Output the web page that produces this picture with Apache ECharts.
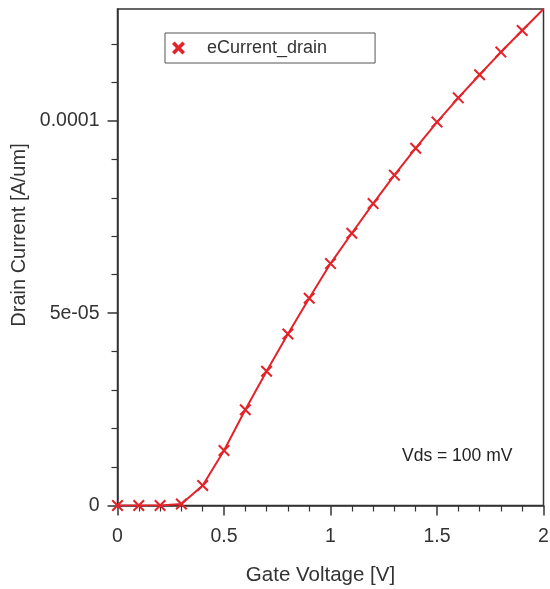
<!DOCTYPE html>
<html>
<head>
<meta charset="utf-8">
<script src="https://cdn.jsdelivr.net/npm/echarts@6/dist/echarts.min.js"></script>
<style>html,body{margin:0;padding:0;background:#fff;}#c{width:550px;height:589px;}</style>
</head>
<body>
<div id="c"></div>
<script>
// Data
const gateVoltage = [0, 0.1, 0.2, 0.3, 0.4, 0.5, 0.6, 0.7, 0.8, 0.9, 1.0, 1.1, 1.2, 1.3, 1.4, 1.5, 1.6, 1.7, 1.8, 1.9, 2.0];
const drainCurrent = [0, 0, 0, 4e-7, 5.2e-6, 1.43e-5, 2.49e-5, 3.49e-5, 4.46e-5, 5.39e-5, 6.29e-5, 7.08e-5, 7.85e-5, 8.59e-5, 9.29e-5, 9.97e-5, 1.06e-4, 1.12e-4, 1.179e-4, 1.235e-4, 1.291e-4];
const markedPoints = 20; // markers on the first 20 points only
const xTickLabels = {0: '0', 0.5: '0.5', 1: '1', 1.5: '1.5', 2: '2'};
const yMajorTicks = [0, 5e-5, 1e-4];
const yTickLabels = ['0', '5e-05', '0.0001'];
const yMinorTicks = [1e-5, 2e-5, 3e-5, 4e-5, 6e-5, 7e-5, 8e-5, 9e-5, 1.1e-4, 1.2e-4];
const seriesName = 'eCurrent_drain';
const xTitle = 'Gate Voltage [V]';
const yTitle = 'Drain Current [A/um]';
const note = 'Vds = 100 mV';

const FONT = '"Liberation Sans", Arial, sans-serif';
const TXT = '#333333';
const AX = '#333333';
const RED = '#e3232a';
const crossThin = 'path://M1.2,0 L5,3.8 L8.8,0 L10,1.2 L6.2,5 L10,8.8 L8.8,10 L5,6.2 L1.2,10 L0,8.8 L3.8,5 L0,1.2 Z';
const crossBold = 'path://M2,0 L5,3 L8,0 L10,2 L7,5 L10,8 L8,10 L5,7 L2,10 L0,8 L3,5 L0,2 Z';

const data = gateVoltage.map((x, i) => i < markedPoints ? [x, drainCurrent[i]] : {value: [x, drainCurrent[i]], symbol: 'none'});

const chart = echarts.init(document.getElementById('c'), null, {renderer: 'canvas'});
chart.setOption({
  animation: false,
  backgroundColor: '#fff',
  grid: {left: 117.5, right: 6.5, top: 9, bottom: 83.5, show: true, borderColor: AX, borderWidth: 1.5, outerBoundsMode: 'none', containLabel: false},
  legend: {
    left: 165, top: 33, orient: 'horizontal',
    padding: [6, 48, 6, 7],
    borderColor: '#555', borderWidth: 1,
    itemWidth: 13, itemHeight: 13,
    data: [{name: seriesName, icon: crossBold}],
    textStyle: {fontFamily: FONT, fontSize: 18, color: TXT, padding: [0, 0, 0, 17]}
  },
  xAxis: {
    type: 'value', min: 0, max: 2, interval: 0.5,
    name: xTitle, nameLocation: 'middle', nameGap: 59,
    nameTextStyle: {fontFamily: FONT, fontSize: 20.5, color: TXT, padding: [0, 20, 0, 0]},
    axisLine: {show: true, lineStyle: {color: AX, width: 1.5}},
    axisTick: {show: true, inside: false, length: 10, lineStyle: {color: AX, width: 1.5}},
    minorTick: {show: true, splitNumber: 5, length: 6, lineStyle: {color: AX, width: 1.2}},
    axisLabel: {margin: 21, fontFamily: FONT, fontSize: 19.5, color: TXT, formatter: v => xTickLabels[v] !== undefined ? xTickLabels[v] : ''},
    splitLine: {show: false}
  },
  yAxis: [{
    type: 'value', min: 0, max: 1.291e-4,
    axisLine: {show: true, lineStyle: {color: AX, width: 1.5}},
    axisTick: {show: true, inside: false, length: 10, customValues: yMajorTicks, lineStyle: {color: AX, width: 1.5}},
    axisLabel: {margin: 18, fontFamily: FONT, fontSize: 19.5, color: TXT, customValues: yMajorTicks,
      formatter: v => { const i = yMajorTicks.findIndex(t => Math.abs(t - v) < 1e-9); return i >= 0 ? yTickLabels[i] : ''; }},
    splitLine: {show: false}
  }, {
    type: 'value', min: 0, max: 1.291e-4, position: 'left',
    axisLine: {show: false},
    axisTick: {show: true, inside: false, length: 6, customValues: yMinorTicks, lineStyle: {color: AX, width: 1.2}},
    axisLabel: {show: false},
    splitLine: {show: false}
  }],
  series: [{
    name: seriesName, type: 'line', yAxisIndex: 0,
    data: data,
    symbol: crossThin, symbolSize: 12,
    showAllSymbol: true,
    lineStyle: {color: RED, width: 2},
    itemStyle: {color: RED},
    clip: true
  }],
  graphic: [
    {type: 'text', x: 19, y: 235, rotation: Math.PI / 2,
      style: {text: yTitle, fontFamily: FONT, fontSize: 20, fill: TXT, align: 'center', verticalAlign: 'middle'}},
    {type: 'text', x: 402, y: 456,
      style: {text: note, fontFamily: FONT, fontSize: 17.5, fill: '#222', align: 'left', verticalAlign: 'middle'}}
  ]
});
</script>
</body>
</html>
